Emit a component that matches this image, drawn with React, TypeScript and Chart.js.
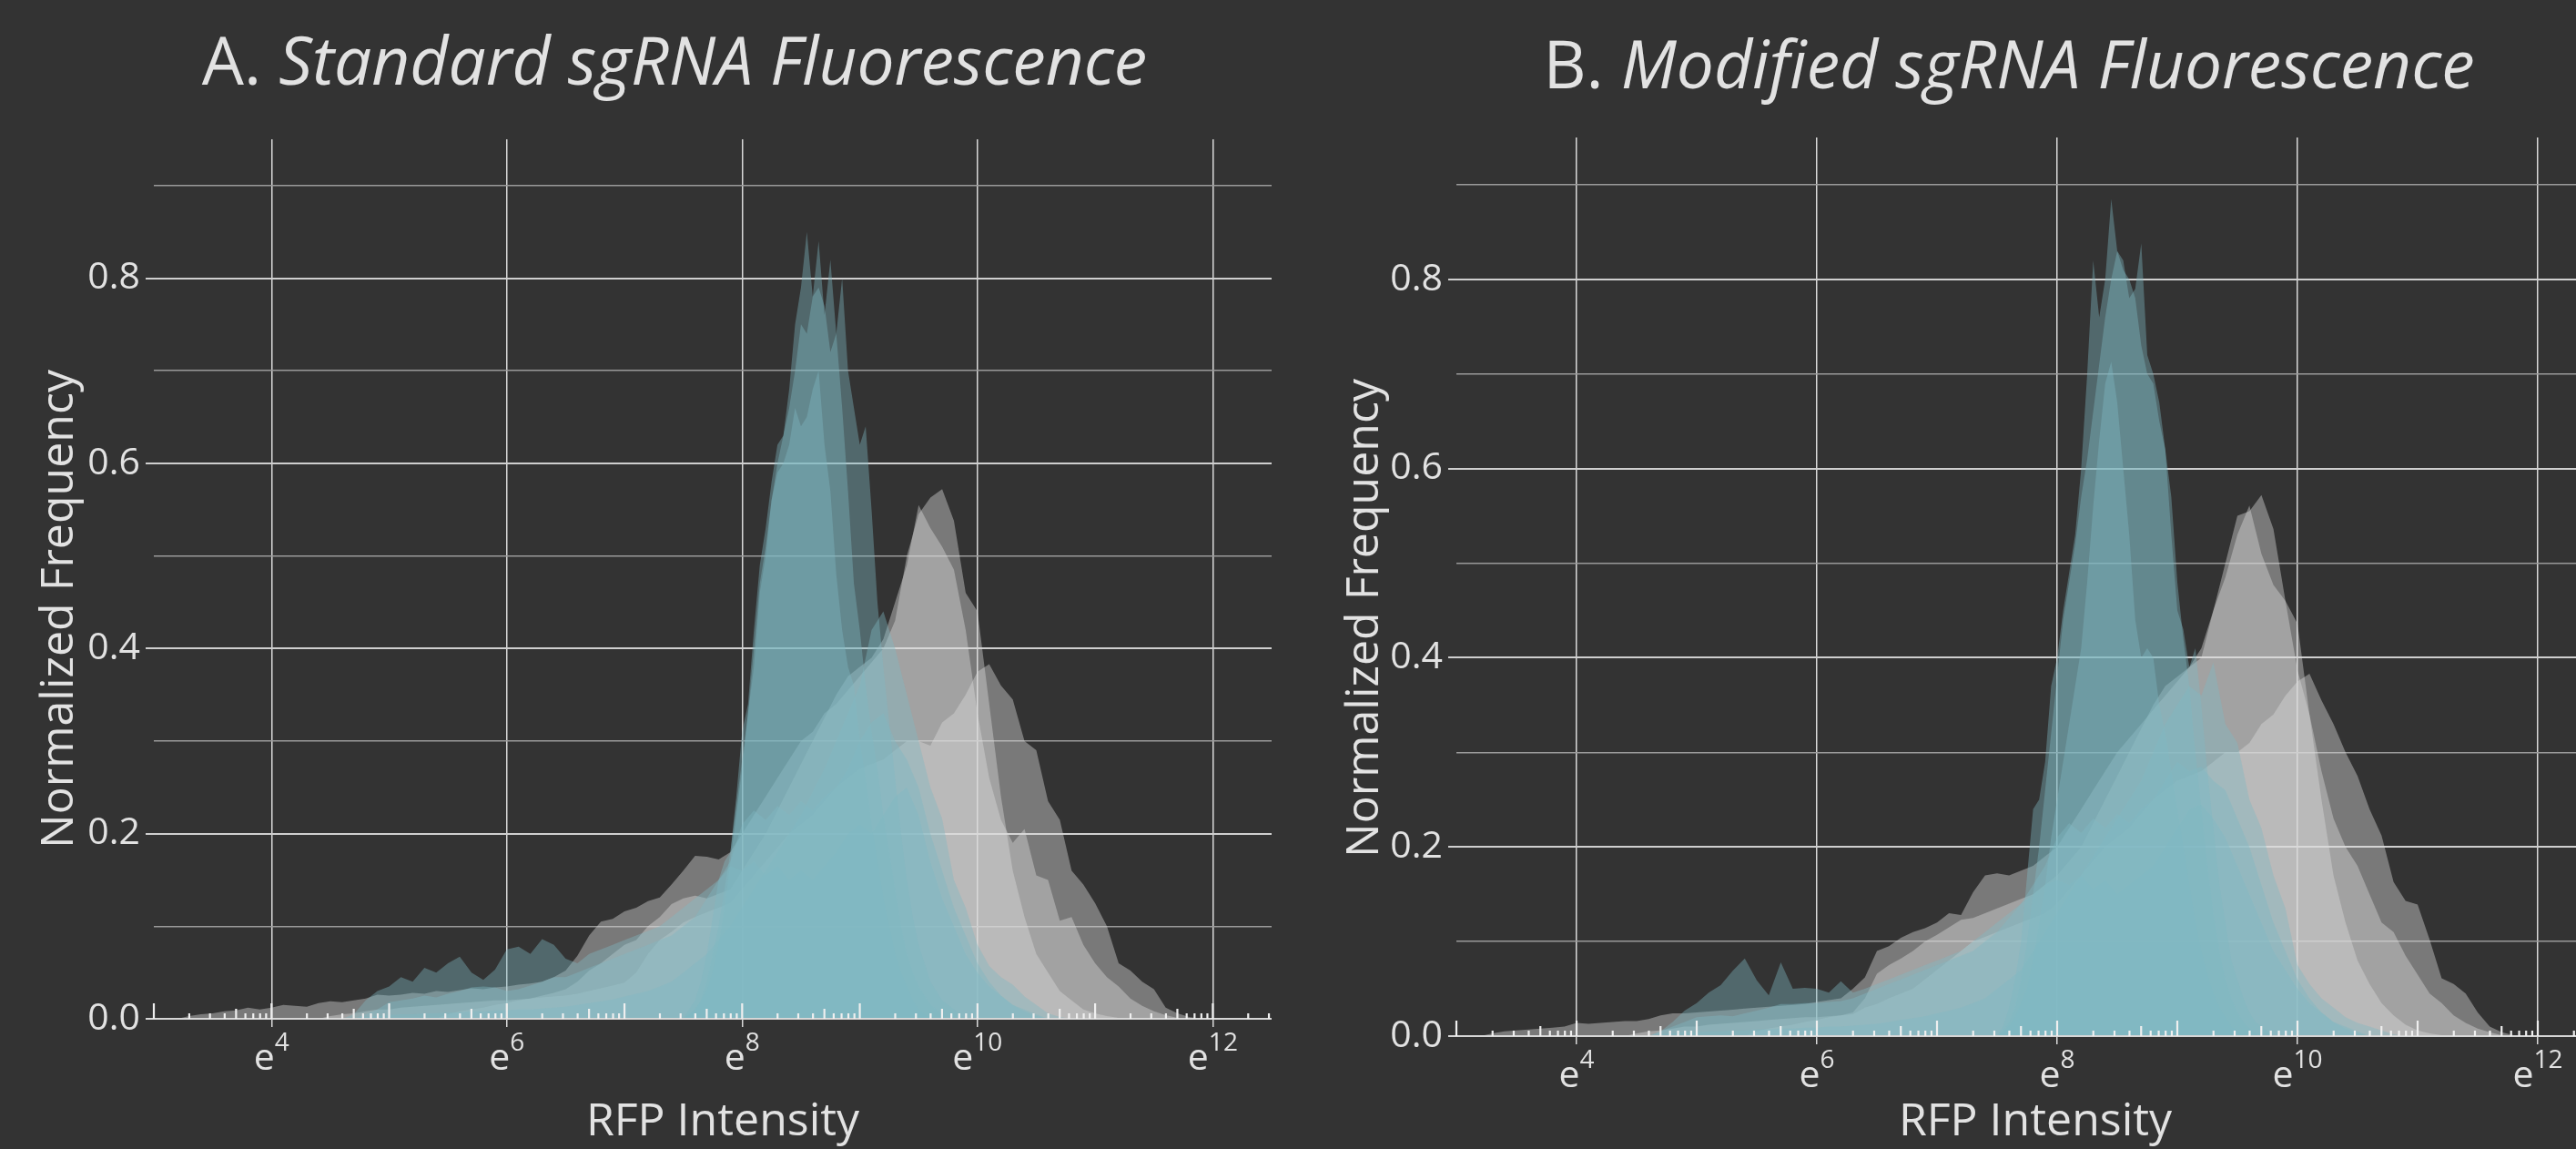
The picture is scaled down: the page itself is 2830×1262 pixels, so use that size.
import React, { useEffect, useRef } from "react";
import { Chart, registerables } from "chart.js";
Chart.register(...registerables);

// ---------- shared axis / style constants ----------
const FONT = "'Open Sans', 'Noto Sans', 'DejaVu Sans', sans-serif";
const TEXT = "#e2e2e2";
const BG = "#333333";
const GRAY_FILL = "rgba(220,220,220,0.42)";
const TEAL_FILL = "rgba(128,186,196,0.40)";

const X_MIN = 3;
const X_MAX = 12.5;
const Y_MIN = 0;
const Y_MAX = 0.95;
const X_TICKS = [4, 6, 8, 10, 12];
const X_TICK_EXP = ["4", "6", "8", "10", "12"];
const Y_TICKS = [0, 0.1, 0.2, 0.3, 0.4, 0.5, 0.6, 0.7, 0.8, 0.9];
const Y_LABELS = ["0.0", "", "0.2", "", "0.4", "", "0.6", "", "0.8", ""];
const RUG_DECADES = [3, 4, 5, 6, 7, 8, 9, 10, 11, 12];
const RUG_MULT = [1, 2, 3, 4, 5, 6, 7, 8, 9];

// bins (ln of RFP intensity)
const BROAD_START = 3.0; // step 0.1, one row per e-unit
const BROAD_STEP = 0.1;
const NARROW_START = 7.5; // step 0.05
const NARROW_STEP = 0.05;

// ---------- Panel A : Standard sgRNA ----------
const A_GRAY_1 = [
  0, 0, 0, 0.003, 0.005, 0.006, 0.008, 0.009, 0.012, 0.010,
  0.012, 0.015, 0.014, 0.013, 0.017, 0.019, 0.018, 0.020, 0.022, 0.026,
  0.025, 0.026, 0.028, 0.027, 0.030, 0.029, 0.031, 0.033, 0.032, 0.034,
  0.035, 0.037, 0.038, 0.040, 0.045, 0.052, 0.068, 0.090, 0.105, 0.108,
  0.116, 0.120, 0.127, 0.131, 0.145, 0.160, 0.176, 0.175, 0.172, 0.180,
  0.200, 0.220, 0.240, 0.260, 0.280, 0.300, 0.310, 0.330, 0.340, 0.355,
  0.370, 0.385, 0.400, 0.430, 0.500, 0.545, 0.563, 0.572, 0.538, 0.460,
  0.440, 0.340, 0.240, 0.160, 0.110, 0.070, 0.050, 0.030, 0.020, 0.010,
  0.006, 0.003, 0.001, 0, 0, 0, 0, 0, 0, 0,
  0,
];
const A_GRAY_2 = [
  0, 0, 0, 0, 0, 0, 0, 0, 0, 0,
  0, 0, 0, 0, 0, 0, 0, 0, 0, 0,
  0, 0, 0, 0, 0, 0.005, 0.008, 0.010, 0.012, 0.015,
  0.017, 0.020, 0.022, 0.025, 0.028, 0.032, 0.040, 0.052, 0.060, 0.070,
  0.080, 0.085, 0.100, 0.110, 0.124, 0.130, 0.133, 0.130, 0.135, 0.140,
  0.160, 0.180, 0.200, 0.225, 0.250, 0.275, 0.300, 0.325, 0.350, 0.370,
  0.380, 0.390, 0.410, 0.450, 0.490, 0.555, 0.530, 0.510, 0.485, 0.420,
  0.330, 0.260, 0.215, 0.190, 0.205, 0.155, 0.150, 0.106, 0.110, 0.080,
  0.060, 0.045, 0.035, 0.022, 0.014, 0.008, 0.004, 0.001, 0, 0,
  0,
];
const A_GRAY_3 = [
  0, 0, 0, 0, 0, 0, 0, 0, 0, 0,
  0, 0, 0, 0, 0, 0.003, 0.005, 0.006, 0.008, 0.010,
  0.010, 0.012, 0.013, 0.014, 0.015, 0.016, 0.017, 0.018, 0.019, 0.020,
  0.020, 0.021, 0.022, 0.023, 0.024, 0.025, 0.027, 0.030, 0.033, 0.036,
  0.039, 0.050, 0.070, 0.085, 0.094, 0.104, 0.110, 0.115, 0.120, 0.125,
  0.140, 0.155, 0.170, 0.185, 0.200, 0.210, 0.220, 0.235, 0.250, 0.260,
  0.270, 0.275, 0.280, 0.290, 0.300, 0.300, 0.295, 0.320, 0.330, 0.350,
  0.375, 0.383, 0.360, 0.345, 0.300, 0.290, 0.235, 0.215, 0.160, 0.145,
  0.125, 0.100, 0.060, 0.052, 0.040, 0.032, 0.012, 0.006, 0.002, 0,
  0,
];
const A_TEAL_1 = [
  0, 0.01, 0.02, 0.04, 0.07, 0.11, 0.15, 0.17, 0.18, 0.24,
  0.31, 0.34, 0.42, 0.49, 0.53, 0.58, 0.62, 0.63, 0.68, 0.75,
  0.79, 0.85, 0.78, 0.84, 0.76, 0.82, 0.74, 0.80, 0.70, 0.66,
  0.62, 0.64, 0.55, 0.45, 0.38, 0.32, 0.26, 0.20, 0.15, 0.11,
  0.08, 0.06, 0.04, 0.03, 0.02, 0.015, 0.01, 0.005, 0,
];
const A_TEAL_2 = [
  0, 0.005, 0.01, 0.02, 0.04, 0.07, 0.10, 0.14, 0.18, 0.23,
  0.28, 0.33, 0.38, 0.46, 0.50, 0.56, 0.60, 0.63, 0.66, 0.70,
  0.75, 0.74, 0.78, 0.79, 0.77, 0.72, 0.74, 0.66, 0.57, 0.47,
  0.42, 0.36, 0.31, 0.27, 0.22, 0.18, 0.14, 0.10, 0.07, 0.05,
  0.035, 0.025, 0.015, 0.01, 0.005, 0, 0, 0, 0,
];
const A_TEAL_3 = [
  0, 0.005, 0.01, 0.02, 0.03, 0.05, 0.08, 0.12, 0.17, 0.22,
  0.27, 0.33, 0.40, 0.47, 0.51, 0.56, 0.59, 0.60, 0.62, 0.66,
  0.64, 0.65, 0.68, 0.70, 0.62, 0.57, 0.48, 0.42, 0.38, 0.36,
  0.30, 0.26, 0.21, 0.17, 0.13, 0.10, 0.07, 0.05, 0.035, 0.02,
  0.01, 0.005, 0, 0, 0, 0, 0, 0, 0,
];
const A_TEAL_4 = [
  0, 0, 0, 0, 0, 0, 0, 0, 0, 0,
  0, 0, 0, 0, 0, 0, 0, 0, 0.002, 0.003,
  0.004, 0.005, 0.005, 0.006, 0.006, 0.007, 0.007, 0.008, 0.008, 0.009,
  0.009, 0.010, 0.010, 0.011, 0.012, 0.013, 0.015, 0.017, 0.019, 0.021,
  0.024, 0.027, 0.030, 0.035, 0.040, 0.050, 0.060, 0.070, 0.085, 0.100,
  0.120, 0.140, 0.160, 0.180, 0.200, 0.220, 0.245, 0.270, 0.300, 0.330,
  0.360, 0.420, 0.440, 0.400, 0.350, 0.300, 0.250, 0.216, 0.150, 0.120,
  0.080, 0.057, 0.045, 0.037, 0.024, 0.015, 0.006, 0.002, 0, 0,
  0, 0, 0, 0, 0, 0, 0, 0, 0, 0,
  0,
];
const A_TEAL_5 = [
  0, 0, 0, 0, 0, 0, 0, 0, 0, 0,
  0, 0, 0, 0, 0, 0, 0, 0, 0.005, 0.010,
  0.018, 0.020, 0.022, 0.025, 0.023, 0.027, 0.030, 0.034, 0.035, 0.034,
  0.030, 0.032, 0.036, 0.040, 0.045, 0.045, 0.050, 0.055, 0.060, 0.065,
  0.070, 0.075, 0.080, 0.085, 0.090, 0.100, 0.110, 0.130, 0.150, 0.170,
  0.210, 0.225, 0.215, 0.230, 0.220, 0.235, 0.225, 0.240, 0.250, 0.270,
  0.300, 0.320, 0.330, 0.300, 0.280, 0.250, 0.200, 0.160, 0.120, 0.090,
  0.060, 0.040, 0.025, 0.015, 0.008, 0.003, 0, 0, 0, 0,
  0, 0, 0, 0, 0, 0, 0, 0, 0, 0,
  0,
];
const A_TEAL_6 = [
  0, 0, 0, 0, 0, 0, 0, 0, 0, 0,
  0, 0, 0, 0, 0, 0, 0, 0.005, 0.020, 0.030,
  0.035, 0.045, 0.040, 0.055, 0.050, 0.060, 0.067, 0.050, 0.042, 0.053,
  0.075, 0.078, 0.070, 0.086, 0.080, 0.065, 0.060, 0.070, 0.075, 0.080,
  0.085, 0.090, 0.095, 0.100, 0.110, 0.120, 0.130, 0.140, 0.150, 0.165,
  0.160, 0.170, 0.155, 0.165, 0.150, 0.160, 0.150, 0.165, 0.180, 0.200,
  0.210, 0.200, 0.220, 0.240, 0.250, 0.220, 0.170, 0.130, 0.100, 0.070,
  0.050, 0.035, 0.025, 0.015, 0.010, 0.005, 0, 0, 0, 0,
  0, 0, 0, 0, 0, 0, 0, 0, 0, 0,
  0,
];

// ---------- Panel B : Modified sgRNA ----------
const B_GRAY_1 = [
  0, 0, 0, 0.003, 0.005, 0.006, 0.007, 0.008, 0.009, 0.010,
  0.014, 0.013, 0.014, 0.015, 0.016, 0.016, 0.018, 0.022, 0.024, 0.024,
  0.025, 0.026, 0.027, 0.028, 0.029, 0.030, 0.031, 0.032, 0.033, 0.034,
  0.036, 0.038, 0.040, 0.050, 0.062, 0.090, 0.095, 0.104, 0.110, 0.114,
  0.120, 0.130, 0.128, 0.152, 0.170, 0.172, 0.170, 0.175, 0.180, 0.190,
  0.200, 0.220, 0.240, 0.260, 0.280, 0.300, 0.315, 0.330, 0.345, 0.360,
  0.375, 0.390, 0.400, 0.450, 0.500, 0.550, 0.555, 0.572, 0.536, 0.460,
  0.436, 0.340, 0.250, 0.170, 0.120, 0.080, 0.055, 0.035, 0.022, 0.012,
  0.006, 0.003, 0.001, 0, 0, 0, 0, 0, 0, 0,
  0,
];
const B_GRAY_2 = [
  0, 0, 0, 0, 0, 0, 0, 0, 0, 0,
  0, 0, 0, 0, 0, 0, 0, 0, 0, 0,
  0, 0, 0, 0, 0, 0.005, 0.008, 0.010, 0.012, 0.015,
  0.017, 0.020, 0.022, 0.025, 0.040, 0.066, 0.075, 0.082, 0.090, 0.100,
  0.107, 0.115, 0.123, 0.125, 0.130, 0.135, 0.140, 0.145, 0.150, 0.160,
  0.170, 0.185, 0.200, 0.225, 0.250, 0.275, 0.300, 0.325, 0.350, 0.370,
  0.380, 0.390, 0.410, 0.450, 0.485, 0.530, 0.561, 0.510, 0.477, 0.460,
  0.387, 0.340, 0.280, 0.230, 0.200, 0.180, 0.150, 0.120, 0.110, 0.085,
  0.065, 0.045, 0.035, 0.022, 0.014, 0.008, 0.004, 0.001, 0, 0,
  0,
];
const B_GRAY_3 = [
  0, 0, 0, 0, 0, 0, 0, 0, 0, 0,
  0, 0, 0, 0, 0, 0.003, 0.005, 0.006, 0.008, 0.010,
  0.010, 0.012, 0.013, 0.014, 0.015, 0.016, 0.017, 0.018, 0.019, 0.020,
  0.020, 0.021, 0.022, 0.023, 0.030, 0.034, 0.040, 0.045, 0.050, 0.060,
  0.070, 0.080, 0.090, 0.100, 0.105, 0.110, 0.115, 0.120, 0.125, 0.130,
  0.140, 0.155, 0.170, 0.185, 0.200, 0.210, 0.220, 0.235, 0.250, 0.260,
  0.270, 0.275, 0.280, 0.290, 0.300, 0.300, 0.310, 0.330, 0.340, 0.360,
  0.375, 0.383, 0.355, 0.330, 0.300, 0.275, 0.240, 0.212, 0.163, 0.143,
  0.139, 0.102, 0.061, 0.055, 0.045, 0.025, 0.010, 0.004, 0.001, 0,
  0,
];
const B_TEAL_1 = [
  0, 0.01, 0.03, 0.06, 0.10, 0.17, 0.24, 0.25, 0.29, 0.37,
  0.40, 0.45, 0.49, 0.53, 0.60, 0.70, 0.82, 0.76, 0.80, 0.885,
  0.83, 0.82, 0.78, 0.79, 0.838, 0.72, 0.70, 0.67, 0.62, 0.53,
  0.45, 0.43, 0.39, 0.41, 0.35, 0.28, 0.22, 0.16, 0.12, 0.08,
  0.06, 0.04, 0.025, 0.015, 0.01, 0.005, 0, 0, 0,
];
const B_TEAL_2 = [
  0, 0.005, 0.015, 0.03, 0.06, 0.10, 0.15, 0.20, 0.26, 0.32,
  0.38, 0.44, 0.48, 0.52, 0.57, 0.61, 0.66, 0.71, 0.76, 0.80,
  0.83, 0.81, 0.80, 0.78, 0.73, 0.70, 0.69, 0.65, 0.62, 0.57,
  0.48, 0.42, 0.37, 0.30, 0.24, 0.18, 0.13, 0.09, 0.06, 0.04,
  0.025, 0.015, 0.008, 0.003, 0, 0, 0, 0, 0,
];
const B_TEAL_3 = [
  0, 0.005, 0.01, 0.02, 0.035, 0.05, 0.08, 0.12, 0.16, 0.21,
  0.25, 0.29, 0.33, 0.37, 0.41, 0.48, 0.56, 0.63, 0.69, 0.713,
  0.67, 0.60, 0.53, 0.44, 0.40, 0.41, 0.40, 0.35, 0.32, 0.28,
  0.24, 0.20, 0.16, 0.12, 0.09, 0.065, 0.045, 0.03, 0.02, 0.01,
  0.005, 0, 0, 0, 0, 0, 0, 0, 0,
];
const B_TEAL_4 = [
  0, 0, 0, 0, 0, 0, 0, 0, 0, 0,
  0, 0, 0, 0, 0, 0, 0, 0.002, 0.003, 0.004,
  0.004, 0.005, 0.005, 0.006, 0.006, 0.007, 0.007, 0.008, 0.008, 0.009,
  0.009, 0.010, 0.010, 0.011, 0.012, 0.013, 0.015, 0.017, 0.019, 0.021,
  0.024, 0.027, 0.030, 0.035, 0.040, 0.050, 0.060, 0.070, 0.090, 0.110,
  0.130, 0.150, 0.170, 0.190, 0.210, 0.230, 0.250, 0.270, 0.300, 0.330,
  0.350, 0.370, 0.360, 0.395, 0.330, 0.310, 0.250, 0.220, 0.170, 0.135,
  0.075, 0.055, 0.040, 0.030, 0.020, 0.014, 0.010, 0.006, 0.002, 0,
  0, 0, 0, 0, 0, 0, 0, 0, 0, 0,
  0,
];
const B_TEAL_5 = [
  0, 0, 0, 0, 0, 0, 0, 0, 0, 0,
  0, 0, 0, 0, 0, 0, 0, 0.005, 0.010, 0.015,
  0.020, 0.021, 0.022, 0.021, 0.024, 0.027, 0.030, 0.034, 0.034, 0.035,
  0.035, 0.036, 0.037, 0.040, 0.045, 0.050, 0.055, 0.060, 0.065, 0.070,
  0.075, 0.080, 0.085, 0.090, 0.100, 0.110, 0.125, 0.140, 0.160, 0.180,
  0.210, 0.225, 0.215, 0.230, 0.220, 0.235, 0.225, 0.240, 0.250, 0.270,
  0.290, 0.280, 0.285, 0.270, 0.260, 0.230, 0.200, 0.160, 0.120, 0.090,
  0.060, 0.040, 0.025, 0.015, 0.008, 0.003, 0, 0, 0, 0,
  0, 0, 0, 0, 0, 0, 0, 0, 0, 0,
  0,
];
const B_TEAL_6 = [
  0, 0, 0, 0, 0, 0, 0, 0, 0, 0,
  0, 0, 0, 0, 0, 0, 0, 0.005, 0.015, 0.027,
  0.035, 0.046, 0.054, 0.069, 0.082, 0.059, 0.043, 0.078, 0.050, 0.051,
  0.050, 0.046, 0.058, 0.046, 0.050, 0.055, 0.060, 0.065, 0.070, 0.075,
  0.080, 0.085, 0.090, 0.100, 0.110, 0.120, 0.130, 0.140, 0.150, 0.160,
  0.165, 0.160, 0.170, 0.155, 0.165, 0.150, 0.160, 0.170, 0.180, 0.200,
  0.220, 0.240, 0.245, 0.230, 0.210, 0.180, 0.150, 0.120, 0.090, 0.070,
  0.050, 0.035, 0.025, 0.015, 0.010, 0.005, 0, 0, 0, 0,
  0, 0, 0, 0, 0, 0, 0, 0, 0, 0,
  0,
];

// ---------- layout of the two panels (page pixels) ----------
const CANVAS_H = 1262;
const X_AXIS_H = 40;

const PANELS = [
  {
    id: "A",
    canvasLeft: 0,
    canvasW: 1420,
    area: { left: 169, right: 1397, top: 153, bottom: 1119 },
    lead: "A. ",
    rest: "Standard sgRNA Fluorescence",
    titleX: 741,
    titleBase: 93,
    yTitleX: 80,
    yTitleY: 669,
    xTitleX: 794,
    xTitleBase: 1247,
    grays: [A_GRAY_1, A_GRAY_2, A_GRAY_3],
    narrowTeals: [A_TEAL_1, A_TEAL_2, A_TEAL_3],
    broadTeals: [A_TEAL_4, A_TEAL_5, A_TEAL_6],
  },
  {
    id: "B",
    canvasLeft: 1420,
    canvasW: 1460,
    area: { left: 180, right: 1434, top: 151, bottom: 1138 },
    lead: "B. ",
    rest: "Modified sgRNA Fluorescence",
    titleX: 2207 - 1420,
    titleBase: 97,
    yTitleX: 1514 - 1420,
    yTitleY: 679,
    xTitleX: 2236 - 1420,
    xTitleBase: 1247,
    grays: [B_GRAY_1, B_GRAY_2, B_GRAY_3],
    narrowTeals: [B_TEAL_1, B_TEAL_2, B_TEAL_3],
    broadTeals: [B_TEAL_4, B_TEAL_5, B_TEAL_6],
  },
];

function toPoints(start: number, step: number, vals: number[]) {
  return vals.map((v, i) => ({ x: Math.round((start + i * step) * 1000) / 1000, y: v }));
}

function areaDataset(points: any[], color: string) {
  return {
    type: "line",
    data: points,
    fill: "origin",
    backgroundColor: color,
    borderColor: "rgba(0,0,0,0)",
    borderWidth: 0,
    pointRadius: 0,
    tension: 0,
  };
}

function makeDecor(p: any) {
  return {
    id: "decor" + p.id,
    afterDatasetsDraw(chart: any) {
      const { ctx, chartArea, scales } = chart;
      const xs = scales.x;
      const y0 = scales.y.getPixelForValue(0);
      ctx.save();
      // zero line
      ctx.strokeStyle = "#d6d6d6";
      ctx.lineWidth = 2;
      ctx.beginPath();
      ctx.moveTo(chartArea.left - 9, y0);
      ctx.lineTo(chartArea.right, y0);
      ctx.stroke();
      // minor (rug-like) ticks along the baseline
      ctx.strokeStyle = "#efefef";
      ctx.lineWidth = 2.2;
      for (const d of RUG_DECADES) {
        for (const k of RUG_MULT) {
          const v = d + Math.log10(k);
          if (v < X_MIN - 1e-9 || v > X_MAX + 1e-9) continue;
          const px = xs.getPixelForValue(v);
          const h = k === 1 ? 17 : k === 5 ? 11 : 6;
          ctx.beginPath();
          ctx.moveTo(px, y0);
          ctx.lineTo(px, y0 - h);
          ctx.stroke();
        }
      }
      ctx.restore();
    },
    afterDraw(chart: any) {
      const { ctx, scales } = chart;
      const xs = scales.x;
      const y0 = scales.y.getPixelForValue(0);
      ctx.save();
      ctx.fillStyle = TEXT;
      ctx.textBaseline = "alphabetic";
      // title: upright lead + italic rest
      ctx.font = `normal 73px ${FONT}`;
      const wLead = ctx.measureText(p.lead).width;
      ctx.font = `italic 73px ${FONT}`;
      const wRest = ctx.measureText(p.rest).width;
      const tx = p.titleX - (wLead + wRest) / 2;
      ctx.textAlign = "left";
      ctx.font = `normal 73px ${FONT}`;
      ctx.fillText(p.lead, tx, p.titleBase);
      ctx.font = `italic 73px ${FONT}`;
      ctx.fillText(p.rest, tx + wLead, p.titleBase);
      // x axis title
      ctx.font = `normal 50px ${FONT}`;
      ctx.textAlign = "center";
      ctx.fillText("RFP Intensity", p.xTitleX, p.xTitleBase);
      // y axis title
      ctx.save();
      ctx.translate(p.yTitleX, p.yTitleY);
      ctx.rotate(-Math.PI / 2);
      ctx.textAlign = "center";
      ctx.fillText("Normalized Frequency", 0, 0);
      ctx.restore();
      // x tick labels e^n
      X_TICKS.forEach((v, i) => {
        const px = xs.getPixelForValue(v);
        ctx.font = `normal 41px ${FONT}`;
        const we = ctx.measureText("e").width;
        ctx.font = `normal 28px ${FONT}`;
        const wx = ctx.measureText(X_TICK_EXP[i]).width;
        const sx = px - (we + wx) / 2;
        const base = y0 + 56;
        ctx.textAlign = "left";
        ctx.font = `normal 41px ${FONT}`;
        ctx.fillText("e", sx, base);
        ctx.font = `normal 28px ${FONT}`;
        ctx.fillText(X_TICK_EXP[i], sx + we, base - 21);
      });
      ctx.restore();
    },
  };
}

function Panel({ p }: { p: any }) {
  const ref = useRef<HTMLCanvasElement | null>(null);
  useEffect(() => {
    const canvas = ref.current;
    if (!canvas) return;
    const teals = [
      ...p.narrowTeals.map((a: number[]) => areaDataset(toPoints(NARROW_START, NARROW_STEP, a), TEAL_FILL)),
      ...p.broadTeals.map((a: number[]) => areaDataset(toPoints(BROAD_START, BROAD_STEP, a), TEAL_FILL)),
    ];
    const grays = p.grays.map((a: number[]) => areaDataset(toPoints(BROAD_START, BROAD_STEP, a), GRAY_FILL));
    const isMajor = (v: number) => Math.round(v * 10) % 2 === 0;
    const chart = new Chart(canvas, {
      type: "line",
      data: { datasets: [...teals, ...grays] as any },
      options: {
        animation: false,
        responsive: false,
        maintainAspectRatio: false,
        devicePixelRatio: 1,
        events: [],
        layout: {
          padding: {
            left: 0,
            right: p.canvasW - p.area.right,
            top: p.area.top,
            bottom: CANVAS_H - p.area.bottom - X_AXIS_H,
          },
        },
        plugins: {
          legend: { display: false },
          tooltip: { enabled: false },
          title: { display: false },
        },
        scales: {
          x: {
            type: "linear",
            min: X_MIN,
            max: X_MAX,
            afterBuildTicks: (s: any) => {
              s.ticks = X_TICKS.map((v) => ({ value: v }));
            },
            afterFit: (s: any) => {
              s.height = X_AXIS_H;
            },
            ticks: { display: false },
            border: { display: false },
            grid: {
              color: "#d9d9d9",
              lineWidth: 1.5,
              drawTicks: true,
              tickLength: 9,
              tickColor: "#d9d9d9",
            },
          },
          y: {
            type: "linear",
            min: Y_MIN,
            max: Y_MAX,
            afterBuildTicks: (s: any) => {
              s.ticks = Y_TICKS.map((v) => ({ value: v }));
            },
            afterFit: (s: any) => {
              s.width = p.area.left;
            },
            ticks: {
              callback: (_v: any, i: number) => Y_LABELS[i],
              color: TEXT,
              font: { family: FONT, size: 41 },
              padding: 6,
            },
            border: { display: false },
            grid: {
              color: (c: any) => (isMajor(c.tick.value) ? "#cfcfcf" : "#9a9a9a"),
              lineWidth: (c: any) => (isMajor(c.tick.value) ? 2 : 1.5),
              drawTicks: true,
              tickLength: 9,
              tickColor: (c: any) => (isMajor(c.tick.value) ? "#cfcfcf" : "rgba(0,0,0,0)"),
            },
          },
        },
      },
      plugins: [makeDecor(p)],
    } as any);
    return () => chart.destroy();
  }, []);
  return (
    <canvas
      ref={ref}
      width={p.canvasW}
      height={CANVAS_H}
      style={{ position: "absolute", left: p.canvasLeft, top: 0, width: p.canvasW, height: CANVAS_H }}
    />
  );
}

export default function App() {
  return (
    <div
      style={{
        position: "fixed",
        left: 0,
        top: 0,
        width: 2830,
        height: 1262,
        overflow: "hidden",
        background: BG,
      }}
    >
      {PANELS.map((p) => (
        <Panel key={p.id} p={p} />
      ))}
    </div>
  );
}
